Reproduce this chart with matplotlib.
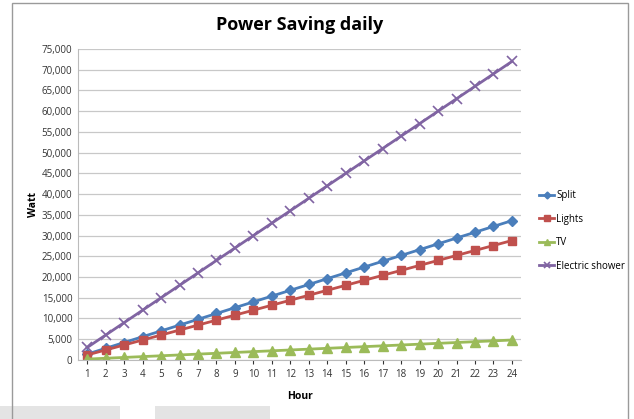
import matplotlib.pyplot as plt
from matplotlib.patches import Rectangle

# Hours and daily power values
hours = list(range(1, 25))
split = [1400, 2800, 4200, 5600, 7000, 8400, 9800, 11200, 12600, 14000, 15400, 16800,
         18200, 19600, 21000, 22400, 23800, 25200, 26600, 28000, 29400, 30800, 32200, 33600]
lights = [1200, 2400, 3600, 4800, 6000, 7200, 8400, 9600, 10800, 12000, 13200, 14400,
          15600, 16800, 18000, 19200, 20400, 21600, 22800, 24000, 25200, 26400, 27600, 28800]
tv = [200, 400, 600, 800, 1000, 1200, 1400, 1600, 1800, 2000, 2200, 2400,
      2600, 2800, 3000, 3200, 3400, 3600, 3800, 4000, 4200, 4400, 4600, 4800]
shower = [3000, 6000, 9000, 12000, 15000, 18000, 21000, 24000, 27000, 30000, 33000, 36000,
          39000, 42000, 45000, 48000, 51000, 54000, 57000, 60000, 63000, 66000, 69000, 72000]
yticks = list(range(0, 75001, 5000))

plt.rcParams['font.family'] = ['Open Sans', 'DejaVu Sans']

fig = plt.figure(figsize=(6.34, 4.19), dpi=100)

# outer frame of the chart
fig.patches.append(Rectangle((12 / 634, -0.01), 616 / 634, 1 - 3 / 419 + 0.01,
                             transform=fig.transFigure, fill=False,
                             edgecolor='#9a9a9a', linewidth=1.0))
# light grey shapes at the bottom edge
fig.patches.append(Rectangle((0.0, 0.0), 120 / 634, 13 / 419, transform=fig.transFigure,
                             facecolor='#e4e4e4', edgecolor='none', zorder=0))
fig.patches.append(Rectangle((155 / 634, 0.0), 115 / 634, 13 / 419, transform=fig.transFigure,
                             facecolor='#e4e4e4', edgecolor='none', zorder=0))

ax = fig.add_axes([0.123, 0.141, 0.699, 0.742])

ax.plot(hours, split, color='#4a7ebb', marker='D', markersize=5, linewidth=2, label='Split')
ax.plot(hours, lights, color='#c0504d', marker='s', markersize=6, linewidth=2, label='Lights')
ax.plot(hours, tv, color='#9bbb59', marker='^', markersize=7, linewidth=2, label='TV')
ax.plot(hours, shower, color='#8064a2', marker='x', markersize=7, markeredgewidth=1.2,
        linewidth=2, label='Electric shower')

ax.set_xlim(0.5, 24.5)
ax.set_ylim(0, 75000)
ax.set_xticks(hours)
ax.set_yticks(yticks)
ax.set_yticklabels([f'{v:,}' for v in yticks])
ax.tick_params(axis='both', labelsize=7, colors='#333333', length=3)
ax.tick_params(axis='y', length=0, pad=4)
ax.grid(axis='y', color='#c8c8c8', linewidth=0.9)
ax.set_axisbelow(True)
for side in ['top', 'right']:
    ax.spines[side].set_visible(False)
ax.spines['left'].set_color('#bbbbbb')
ax.spines['bottom'].set_color('#bbbbbb')

ax.set_title('Power Saving daily', fontsize=13, fontweight='bold', pad=14)
ax.set_xlabel('Hour', fontsize=7.5, fontweight='bold', labelpad=8)
ax.set_ylabel('Watt', fontsize=7.5, fontweight='bold', labelpad=2)

ax.legend(loc='center left', bbox_to_anchor=(1.02, 0.415), frameon=False, fontsize=7,
          handlelength=1.6, labelspacing=1.3, handletextpad=0.2, markerscale=0.7)

fig.savefig('out.png', dpi=100)
